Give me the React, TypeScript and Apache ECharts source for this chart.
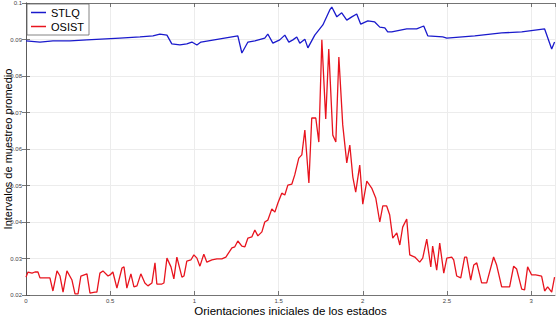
import React, { useEffect, useRef } from "react";
import * as echarts from "echarts";

const seriesNames = ["STLQ", "OSIST"];
const xTicks = { min: 0, max: Math.PI, interval: 0.5 };
const yTicks = { min: 0.02, max: 0.1, interval: 0.01 };

const stlq: [number, number][] = [
  [0, 0.0896], [0.083, 0.0893], [0.16, 0.0896], [0.261, 0.0896], [0.362, 0.0899],
  [0.558, 0.0904], [0.677, 0.0907], [0.754, 0.091], [0.795, 0.0915], [0.837, 0.0912],
  [0.866, 0.0888], [0.914, 0.0885], [0.955, 0.0888], [0.985, 0.0893], [1.015, 0.0885],
  [1.039, 0.0893], [1.258, 0.091], [1.282, 0.0863], [1.318, 0.0893], [1.359, 0.0896],
  [1.418, 0.0904], [1.436, 0.0915], [1.466, 0.089], [1.507, 0.0899], [1.537, 0.0912],
  [1.561, 0.0893], [1.585, 0.0899], [1.608, 0.0907], [1.626, 0.089], [1.656, 0.0901],
  [1.674, 0.0877], [1.715, 0.0912], [1.763, 0.094], [1.804, 0.0981], [1.816, 0.0989],
  [1.846, 0.0962], [1.875, 0.0973], [1.905, 0.0953], [1.935, 0.0962], [1.964, 0.097],
  [1.988, 0.0942], [2.03, 0.0951], [2.071, 0.0948], [2.101, 0.0934], [2.131, 0.0932],
  [2.148, 0.0921], [2.172, 0.0921], [2.261, 0.0929], [2.32, 0.0929], [2.362, 0.0937],
  [2.386, 0.091], [2.475, 0.0907], [2.499, 0.0904], [2.665, 0.091], [2.825, 0.0918],
  [2.944, 0.0921], [3.08, 0.0929], [3.122, 0.0874], [3.139, 0.0893],
];

const osist: [number, number][] = [
  [0, 0.0249], [0.012, 0.0263], [0.036, 0.026], [0.053, 0.0263], [0.071, 0.0263],
  [0.083, 0.0247], [0.131, 0.0247], [0.142, 0.0247], [0.16, 0.0211], [0.184, 0.0266],
  [0.202, 0.0252], [0.22, 0.0208], [0.243, 0.0266], [0.273, 0.0241], [0.291, 0.0203],
  [0.309, 0.0203], [0.326, 0.0252], [0.362, 0.0258], [0.38, 0.0205], [0.409, 0.0208],
  [0.421, 0.0208], [0.439, 0.026], [0.457, 0.0266], [0.487, 0.0252], [0.499, 0.0255],
  [0.516, 0.0263], [0.54, 0.0219], [0.57, 0.0274], [0.582, 0.0277], [0.599, 0.0219],
  [0.623, 0.0258], [0.641, 0.0222], [0.659, 0.0225], [0.682, 0.0258], [0.706, 0.0233],
  [0.724, 0.0225], [0.748, 0.0233], [0.766, 0.0288], [0.777, 0.023], [0.807, 0.023],
  [0.819, 0.0233], [0.837, 0.0301], [0.861, 0.0277], [0.878, 0.0244], [0.896, 0.0304],
  [0.926, 0.0249], [0.938, 0.0252], [0.955, 0.0293], [0.979, 0.0296], [0.997, 0.031],
  [1.015, 0.0301], [1.033, 0.0279], [1.056, 0.0312], [1.074, 0.029], [1.104, 0.0296],
  [1.134, 0.0299], [1.163, 0.0299], [1.187, 0.0304], [1.223, 0.0329], [1.24, 0.0332],
  [1.258, 0.0348], [1.282, 0.0334], [1.3, 0.0332], [1.318, 0.0356], [1.341, 0.0359],
  [1.359, 0.0378], [1.377, 0.0362], [1.401, 0.0373], [1.418, 0.04], [1.436, 0.0405],
  [1.46, 0.0436], [1.478, 0.0427], [1.496, 0.0452], [1.519, 0.0479], [1.537, 0.0474],
  [1.555, 0.0501], [1.579, 0.0504], [1.596, 0.0529], [1.62, 0.0575], [1.638, 0.0584],
  [1.656, 0.0652], [1.68, 0.0507], [1.697, 0.0685], [1.721, 0.0685], [1.739, 0.0619],
  [1.757, 0.0899], [1.78, 0.0682], [1.798, 0.0874], [1.822, 0.0638], [1.84, 0.0619],
  [1.858, 0.0852], [1.881, 0.0666], [1.905, 0.0562], [1.923, 0.0611], [1.941, 0.0523],
  [1.958, 0.0482], [1.982, 0.0556], [2.0, 0.0449], [2.024, 0.0512], [2.053, 0.0493],
  [2.077, 0.0466], [2.101, 0.04], [2.119, 0.0444], [2.142, 0.0444], [2.16, 0.0419],
  [2.178, 0.0356], [2.202, 0.037], [2.22, 0.0337], [2.237, 0.0386], [2.261, 0.0408],
  [2.279, 0.031], [2.309, 0.0304], [2.338, 0.029], [2.356, 0.0301], [2.38, 0.0353],
  [2.404, 0.0277], [2.415, 0.0334], [2.439, 0.0268], [2.457, 0.0342], [2.481, 0.026],
  [2.499, 0.0301], [2.528, 0.0304], [2.54, 0.0296], [2.558, 0.0252], [2.582, 0.0247],
  [2.605, 0.0304], [2.617, 0.0304], [2.641, 0.0241], [2.659, 0.0282], [2.677, 0.0288],
  [2.706, 0.0233], [2.736, 0.0233], [2.777, 0.0304], [2.795, 0.0282], [2.825, 0.0222],
  [2.861, 0.0222], [2.872, 0.0222], [2.896, 0.0279], [2.914, 0.0271], [2.944, 0.0216],
  [2.961, 0.0214], [2.979, 0.0277], [3.003, 0.0255], [3.027, 0.0255], [3.062, 0.0252],
  [3.08, 0.0211], [3.098, 0.0222], [3.122, 0.0208], [3.139, 0.0249],
];

const xTitle = "Orientaciones iniciales de los estados";
const yTitle = "Intervalos de muestreo promedio";

const fmt = (v: number) => String(parseFloat(v.toFixed(2)));

export default function App() {
  const ref = useRef<HTMLDivElement>(null);
  useEffect(() => {
    if (!ref.current) return;
    const chart = echarts.init(ref.current, undefined, { renderer: "svg" });
    const font = "Arial, 'Liberation Sans', Helvetica, sans-serif";
    const tickLabel = { fontSize: 6, color: "#444", fontFamily: font };
    const axisLine = { show: true, lineStyle: { color: "#555", width: 0.8 } };
    const axisTick = { show: true, inside: true, length: 4, lineStyle: { color: "#555", width: 0.8 } };
    const splitLine = { show: true, lineStyle: { color: "#ececec", width: 1 } };
    chart.setOption({
      animation: false,
      backgroundColor: "#ffffff",
      textStyle: { fontFamily: font },
      grid: {
        left: 26,
        right: 3,
        top: 3,
        bottom: 23,
        containLabel: false,
        outerBoundsMode: "none",
      },
      legend: {
        show: true,
        orient: "vertical",
        left: 27,
        top: 4,
        data: seriesNames,
        icon: "rect",
        itemWidth: 15,
        itemHeight: 1.5,
        itemGap: 3,
        padding: [3, 5, 3, 4],
        backgroundColor: "#ffffff",
        borderColor: "#666",
        borderWidth: 0.8,
        textStyle: { fontSize: 11, color: "#000", fontFamily: font },
      },
      xAxis: [
        {
          type: "value",
          min: xTicks.min,
          max: xTicks.max,
          interval: xTicks.interval,
          name: xTitle,
          nameLocation: "middle",
          nameGap: 10,
          nameMoveOverlap: false,
          nameTextStyle: { fontSize: 11.5, color: "#000", fontFamily: font },
          axisLine,
          axisTick,
          splitLine,
          axisLabel: { ...tickLabel, margin: 3, formatter: fmt, showMaxLabel: false },
        },
        {
          type: "value",
          position: "top",
          min: xTicks.min,
          max: xTicks.max,
          interval: xTicks.interval,
          axisLine,
          axisTick,
          splitLine: { show: false },
          axisLabel: { show: false },
        },
      ],
      yAxis: [
        {
          type: "value",
          min: yTicks.min,
          max: yTicks.max,
          interval: yTicks.interval,
          name: yTitle,
          nameLocation: "middle",
          nameGap: 13,
          nameMoveOverlap: false,
          nameTextStyle: { fontSize: 11, color: "#000", fontFamily: font },
          axisLine,
          axisTick,
          splitLine,
          axisLabel: { ...tickLabel, margin: 4, formatter: fmt },
        },
        {
          type: "value",
          position: "right",
          min: yTicks.min,
          max: yTicks.max,
          interval: yTicks.interval,
          axisLine,
          axisTick,
          splitLine: { show: false },
          axisLabel: { show: false },
        },
      ],
      series: [
        {
          name: seriesNames[0],
          type: "line",
          data: stlq,
          symbol: "none",
          lineStyle: { color: "#1a1acc", width: 1.3 },
          itemStyle: { color: "#1a1acc" },
        },
        {
          name: seriesNames[1],
          type: "line",
          data: osist,
          symbol: "none",
          lineStyle: { color: "#e8141e", width: 1.3 },
          itemStyle: { color: "#e8141e" },
        },
      ],
    });
    return () => chart.dispose();
  }, []);
  return (
    <div
      ref={ref}
      style={{ position: "fixed", left: 0, top: 0, width: 558, height: 318, background: "#fff" }}
    />
  );
}
